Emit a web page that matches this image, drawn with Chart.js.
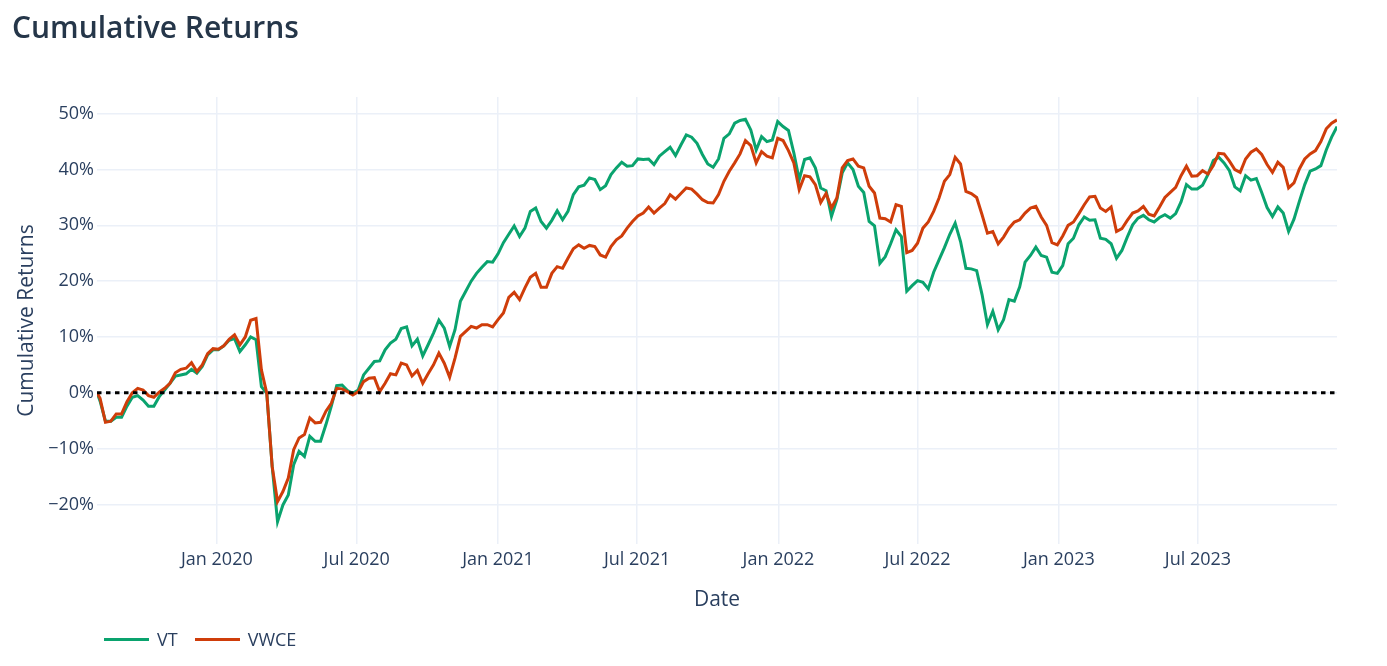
<!DOCTYPE html>
<html>
<head>
<meta charset="utf-8">
<script src="https://cdn.jsdelivr.net/npm/chart.js@4.4.1/dist/chart.umd.min.js"></script>
<style>
html,body{margin:0;padding:0;background:#fff;}
#wrap{position:relative;width:1387px;height:666px;font-family:'Open Sans',sans-serif;color:#2a3f5f;overflow:hidden;}
#title{position:absolute;left:12px;top:12px;font-size:30px;line-height:30px;font-weight:600;margin:0;white-space:nowrap;color:#253649;}
#legend{position:absolute;left:104px;top:627px;height:24px;display:flex;align-items:center;font-size:18px;line-height:24px;}
.item{display:flex;align-items:center;}
.swatch{width:45px;height:3px;margin-right:8px;}
canvas{position:absolute;left:0;top:0;}
</style>
</head>
<body>
<div id="wrap">
<canvas id="c" width="1387" height="666"></canvas>
<h1 id="title">Cumulative Returns</h1>
<div id="legend">
  <div class="item"><span class="swatch" style="background:#0aa36e"></span><span>VT</span></div>
  <div class="item" style="margin-left:17px"><span class="swatch" style="background:#cf3d0a"></span><span>VWCE</span></div>
</div>
</div>
<script>
// ---- data ----
const seriesNames = ['VT', 'VWCE'];
const firstDate = '2019-07-29';      // start of the series
const firstFriday = '2019-08-02';    // then weekly (Fridays) until 2023-12-29
const weeklyCount = 231;

const vt = [
  0, -1.5, -5.1, -5.1, -4.4, -4.4, -2.4, -0.8, -0.5, -1.3,
  -2.4, -2.4, -0.7, 0.5, 1.7, 3.0, 3.2, 3.4, 4.2, 3.5,
  4.7, 6.8, 7.7, 7.7, 8.4, 9.4, 9.7, 7.4, 8.6, 10.0,
  9.5, 1.1, -0.1, -13.2, -23.1, -20.1, -18.3, -12.9, -10.5, -11.4,
  -7.8, -8.7, -8.7, -5.7, -2.4, 1.3, 1.4, 0.4, -0.1, 0.5,
  3.2, 4.4, 5.6, 5.7, 7.7, 8.9, 9.6, 11.5, 11.8, 8.4,
  9.6, 6.6, 8.6, 10.7, 13.0, 11.6, 8.3, 11.3, 16.4, 18.2,
  20.0, 21.4, 22.5, 23.5, 23.4, 24.9, 26.9, 28.4, 29.9, 28.0,
  29.5, 32.5, 33.1, 30.7, 29.5, 30.9, 32.6, 31.0, 32.5, 35.5,
  36.9, 37.2, 38.5, 38.2, 36.4, 37.1, 39.1, 40.3, 41.3, 40.6,
  40.7, 41.9, 41.8, 41.9, 40.9, 42.4, 43.2, 44.0, 42.5, 44.4,
  46.2, 45.8, 44.7, 42.7, 41.0, 40.4, 41.9, 45.6, 46.4, 48.3,
  48.8, 49.0, 47.1, 43.5, 45.9, 45.0, 45.3, 48.6, 47.7, 47.0,
  43.0, 38.2, 41.8, 42.1, 40.3, 36.7, 36.2, 31.6, 34.6, 39.4,
  41.2, 40.0, 37.0, 35.9, 30.7, 29.9, 23.2, 24.4, 26.7, 29.2,
  28.0, 18.2, 19.2, 20.1, 19.8, 18.6, 21.6, 23.8, 26.0, 28.4,
  30.4, 27.1, 22.3, 22.2, 21.9, 17.6, 12.2, 14.6, 11.3, 13.1,
  16.7, 16.4, 19.0, 23.4, 24.6, 26.1, 24.6, 24.3, 21.6, 21.4,
  22.8, 26.7, 27.7, 30.1, 31.5, 30.9, 31.0, 27.7, 27.5, 26.7,
  24.1, 25.5, 27.9, 30.1, 31.3, 31.8, 31.0, 30.6, 31.4, 31.9,
  31.3, 32.1, 34.2, 37.3, 36.5, 36.5, 37.2, 39.1, 41.6, 42.2,
  41.2, 39.8, 36.9, 36.2, 38.9, 38.1, 38.4, 35.9, 33.2, 31.6,
  33.3, 32.2, 28.9, 31.1, 34.3, 37.3, 39.7, 40.1, 40.7, 43.5,
  45.8, 47.7
];

const vwce = [
  0, -1.0, -5.3, -5.1, -3.8, -3.8, -1.6, 0.0, 0.8, 0.5,
  -0.5, -0.8, 0.1, 0.8, 1.7, 3.6, 4.2, 4.4, 5.4, 3.8,
  5.0, 7.0, 7.9, 7.8, 8.4, 9.6, 10.4, 8.6, 10.0, 13.0,
  13.3, 4.1, -0.1, -13.2, -19.5, -17.7, -15.3, -10.2, -8.1, -7.5,
  -4.5, -5.4, -5.3, -3.3, -1.9, 0.8, 0.7, 0.2, -0.4, 0.2,
  2.0, 2.6, 2.7, 0.2, 1.7, 3.4, 3.2, 5.3, 5.0, 3.0,
  4.0, 1.7, 3.4, 5.0, 7.1, 5.3, 2.8, 6.2, 10.1, 11.0,
  11.9, 11.6, 12.2, 12.2, 11.8, 13.1, 14.3, 17.1, 18.0, 16.7,
  18.8, 20.7, 21.4, 18.9, 18.9, 21.4, 22.6, 22.3, 24.1, 25.8,
  26.5, 25.9, 26.4, 26.2, 24.7, 24.3, 26.2, 27.4, 28.1, 29.5,
  30.7, 31.7, 32.2, 33.3, 32.2, 33.1, 33.9, 35.5, 34.7, 35.7,
  36.7, 36.5, 35.6, 34.6, 34.1, 34.0, 35.5, 37.9, 39.7, 41.2,
  42.8, 45.2, 44.3, 41.2, 43.2, 42.4, 42.1, 45.6, 45.2, 43.4,
  41.2, 36.4, 38.9, 38.7, 37.3, 34.1, 35.7, 33.1, 34.9, 40.3,
  41.6, 41.9, 40.6, 40.3, 37.0, 35.8, 31.3, 31.2, 30.6, 33.7,
  33.4, 25.1, 25.5, 26.8, 29.5, 30.6, 32.5, 34.9, 37.9, 39.1,
  42.2, 41.0, 36.1, 35.7, 35.0, 31.9, 28.6, 28.9, 26.7, 27.9,
  29.5, 30.6, 31.0, 32.2, 33.1, 33.4, 31.5, 30.0, 26.9, 26.5,
  28.1, 30.0, 30.6, 32.1, 33.7, 35.1, 35.2, 33.1, 32.5, 33.3,
  28.9, 29.4, 30.9, 32.2, 32.6, 33.4, 32.0, 31.7, 33.3, 35.0,
  35.9, 36.8, 38.9, 40.6, 38.8, 38.9, 39.8, 39.2, 40.7, 42.9,
  42.8, 41.5, 40.0, 39.5, 41.9, 43.1, 43.7, 42.7, 40.9, 39.5,
  41.3, 40.4, 36.7, 37.6, 40.1, 41.9, 42.8, 43.4, 45.0, 47.3,
  48.3, 48.9
];

const xTickDates = ['2020-01-01','2020-07-01','2021-01-01','2021-07-01','2022-01-01','2022-07-01','2023-01-01','2023-07-01'];
const xTickLabels = ['Jan 2020','Jul 2020','Jan 2021','Jul 2021','Jan 2022','Jul 2022','Jan 2023','Jul 2023'];
const yTicks = [-20, -10, 0, 10, 20, 30, 40, 50];

// ---- helpers ----
function dayNum(s) {
  const p = s.split('-').map(Number);
  return Date.UTC(p[0], p[1] - 1, p[2]) / 86400000;
}
const dates = [firstDate];
for (let i = 0; i < weeklyCount; i++) {
  const d = new Date((dayNum(firstFriday) + 7 * i) * 86400000);
  dates.push(d.toISOString().slice(0, 10));
}
const xs = dates.map(dayNum);
const xMin = xs[0], xMax = xs[xs.length - 1];

const FONT = "'Open Sans', sans-serif";
const TXT = '#2a3f5f';
const GRID = '#ebf0f8';

new Chart(document.getElementById('c').getContext('2d'), {
  type: 'line',
  data: {
    datasets: [
      { label: seriesNames[0], data: xs.map((x, i) => ({ x, y: vt[i] })), borderColor: '#0aa36e', backgroundColor: '#0aa36e', borderWidth: 3, pointRadius: 0, tension: 0, fill: false, order: 3 },
      { label: seriesNames[1], data: xs.map((x, i) => ({ x, y: vwce[i] })), borderColor: '#cf3d0a', backgroundColor: '#cf3d0a', borderWidth: 3, pointRadius: 0, tension: 0, fill: false, order: 2 },
      { label: 'zero', data: [{ x: xMin, y: 0 }, { x: xMax, y: 0 }], borderColor: '#000', borderWidth: 3, borderDash: [4.5, 4.5], pointRadius: 0, fill: false, order: 1 }
    ]
  },
  options: {
    responsive: false,
    animation: false,
    devicePixelRatio: 1,
    layout: { padding: { left: 0, right: 50, top: 97, bottom: 53 } },
    plugins: { legend: { display: false }, tooltip: { enabled: false }, title: { display: false } },
    scales: {
      x: {
        type: 'linear', min: xMin, max: xMax,
        afterFit(s) { s.height = 69; },
        afterBuildTicks(s) { s.ticks = xTickDates.map(d => ({ value: dayNum(d) })); },
        grid: { color: GRID, lineWidth: 1.5, drawTicks: false },
        border: { display: false },
        ticks: { autoSkip: false, maxRotation: 0, padding: 5, color: TXT, font: { family: FONT, size: 18 }, callback: (v, i) => xTickLabels[i] },
        title: { display: true, text: 'Date', color: TXT, font: { family: FONT, size: 21 }, padding: { top: 0, bottom: 0 } }
      },
      y: {
        min: -27.1, max: 53.0,
        afterFit(s) { s.width = 97; },
        afterBuildTicks(s) { s.ticks = yTicks.map(v => ({ value: v })); },
        grid: { color: GRID, lineWidth: 1.5, drawTicks: false },
        border: { display: false },
        ticks: { padding: 3, color: TXT, font: { family: FONT, size: 18 }, callback: v => (v < 0 ? '\u2212' : '') + Math.abs(v) + '%' },
        title: { display: true, text: 'Cumulative Returns', color: TXT, font: { family: FONT, size: 21 }, padding: { top: 14, bottom: 0 } }
      }
    }
  }
});
</script>
</body>
</html>
